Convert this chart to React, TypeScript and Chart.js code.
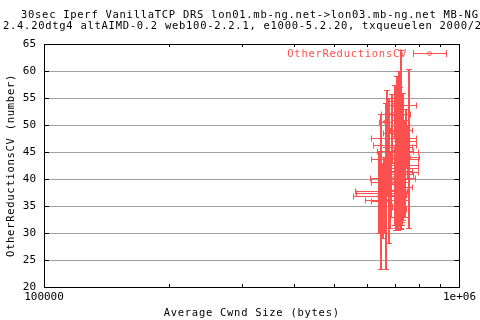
import React, { useEffect, useRef } from "react";
import { Chart, registerables } from "chart.js";

Chart.register(...registerables);

// ---- data (average cwnd in bytes, CV values) ----
const cwnd = [725000, 758000, 706000, 671000, 649000, 664000, 675000, 698000, 690000, 664000, 717000, 710000, 702000, 721000, 713000, 729000, 706000, 698000, 686000, 660000, 653000, 642000, 679000, 710000, 717000, 725000, 733000, 702000, 742000, 717000, 690000, 750000, 713000, 721000, 706000, 713000, 721000, 729000, 706000, 717000, 725000, 710000, 733000, 702000, 717000, 738000, 713000];
const cwndLow = [686000, 710000, 671000, 642000, 611000, 635000, 642000, 671000, 649000, 639000, 614000, 618000, 632000, 611000, 639000, 660000, 635000, 608000, 614000, 562000, 565000, 553000, 594000, 679000, 686000, 702000, 694000, 664000, 710000, 679000, 653000, 710000, 671000, 690000, 675000, 690000, 698000, 706000, 679000, 694000, 698000, 683000, 713000, 675000, 690000, 710000, 686000];
const cwndHigh = [767000, 801000, 738000, 698000, 686000, 698000, 717000, 788000, 762000, 690000, 788000, 788000, 771000, 793000, 793000, 793000, 793000, 780000, 758000, 746000, 742000, 750000, 758000, 738000, 750000, 758000, 767000, 733000, 784000, 767000, 725000, 793000, 758000, 758000, 742000, 742000, 750000, 758000, 733000, 746000, 754000, 738000, 767000, 729000, 754000, 771000, 742000];
const cv = [41.5, 44, 46, 44, 36, 37, 38, 53.7, 52, 50.6, 47.6, 46.3, 45.2, 43.7, 42.6, 42, 41.3, 40.2, 39.4, 37.8, 37.4, 36.8, 36.1, 39, 41, 40, 38.5, 43, 47, 49, 48.5, 45, 44.5, 35, 34.5, 45, 47, 43, 42, 48, 40, 44, 46, 39, 50, 41, 37];
const cvLow = [31.5, 31, 34, 37, 23.4, 23.3, 28.1, 48, 45, 46, 40, 36, 38, 33, 35, 32, 33, 31.5, 33, 30, 29, 30, 31, 32, 31.3, 30.8, 32.5, 37, 42, 44, 43, 40, 39.5, 31.5, 31, 31, 33, 31.5, 32, 35, 31, 33, 34, 30.5, 38, 33, 30.5];
const cvHigh = [63.8, 60.4, 59, 56.5, 52, 50.8, 55, 57.5, 55.8, 54, 55, 53, 51, 50, 49, 48, 47, 46, 45, 44, 43, 45, 42, 46, 48, 47, 45, 52, 53, 58, 54.5, 50, 56, 41, 40, 55, 57, 53, 52, 58, 50, 54, 56, 49, 60, 51, 47];

const yTickValues = [20, 25, 30, 35, 40, 45, 50, 55, 60, 65];
const xMinorTicks = [200000, 300000, 400000, 500000, 600000, 700000, 800000, 900000];

const titleLine1 = "30sec Iperf VanillaTCP DRS lon01.mb-ng.net->lon03.mb-ng.net MB-NG";
const titleLine2 = "2.4.20dtg4 altAIMD-0.2 web100-2.2.1, e1000-5.2.20, txqueuelen 2000/2";
const seriesName = "OtherReductionsCV";
const xTitle = "Average Cwnd Size (bytes)";
const yTitle = "OtherReductionsCV (number)";

const RED = "#ff5050";
const FONT = "10.5px 'DejaVu Sans Mono'";
const SPACING = "0.72px";

function drawDiamond(ctx: CanvasRenderingContext2D, x: number, y: number, r: number) {
  ctx.beginPath();
  ctx.moveTo(x, y - r);
  ctx.lineTo(x + r, y);
  ctx.lineTo(x, y + r);
  ctx.lineTo(x - r, y);
  ctx.closePath();
  ctx.stroke();
}

const framePlugin = {
  id: "frameAndBars",
  beforeDatasetsDraw(chart: any) {
    const { ctx, chartArea: a, scales } = chart;
    const xs = scales.x;
    const ys = scales.y;
    ctx.save();
    ctx.strokeStyle = "#000";
    ctx.lineWidth = 1;
    ctx.strokeRect(Math.round(a.left) + 0.5, Math.round(a.top) + 0.5, Math.round(a.right - a.left), Math.round(a.bottom - a.top));
    ctx.beginPath();
    for (const v of yTickValues) {
      const py = Math.round(ys.getPixelForValue(v)) + 0.5;
      ctx.moveTo(a.left, py);
      ctx.lineTo(a.left + 5, py);
      ctx.moveTo(a.right, py);
      ctx.lineTo(a.right - 5, py);
    }
    for (const v of xMinorTicks) {
      const px = Math.round(xs.getPixelForValue(v)) + 0.5;
      ctx.moveTo(px, a.bottom);
      ctx.lineTo(px, a.bottom - 3);
      ctx.moveTo(px, a.top);
      ctx.lineTo(px, a.top + 3);
    }
    ctx.stroke();

    ctx.strokeStyle = RED;
    // vertical (y) error bars: 2px wide stems
    ctx.lineWidth = 2;
    ctx.beginPath();
    for (let i = 0; i < cwnd.length; i++) {
      const px = Math.round(xs.getPixelForValue(cwnd[i]));
      const yl = Math.round(ys.getPixelForValue(cvLow[i]));
      const yh = Math.round(ys.getPixelForValue(cvHigh[i]));
      ctx.moveTo(px, yl);
      ctx.lineTo(px, yh);
    }
    ctx.stroke();
    // caps and horizontal (x) error bars: 1px
    ctx.lineWidth = 1;
    ctx.beginPath();
    for (let i = 0; i < cwnd.length; i++) {
      const pxr = Math.round(xs.getPixelForValue(cwnd[i]));
      const py = Math.round(ys.getPixelForValue(cv[i])) + 0.5;
      const xl = Math.round(xs.getPixelForValue(cwndLow[i])) + 0.5;
      const xh = Math.round(xs.getPixelForValue(cwndHigh[i])) + 0.5;
      const yl = Math.round(ys.getPixelForValue(cvLow[i])) + 0.5;
      const yh = Math.round(ys.getPixelForValue(cvHigh[i])) + 0.5;
      ctx.moveTo(pxr - 3, yl);
      ctx.lineTo(pxr + 3, yl);
      ctx.moveTo(pxr - 3, yh);
      ctx.lineTo(pxr + 3, yh);
      ctx.moveTo(xl, py);
      ctx.lineTo(xh, py);
      ctx.moveTo(xl, py - 3);
      ctx.lineTo(xl, py + 3);
      ctx.moveTo(xh, py - 3);
      ctx.lineTo(xh, py + 3);
    }
    ctx.stroke();
    ctx.restore();
  },
  afterDraw(chart: any) {
    const { ctx, chartArea: a } = chart;
    ctx.save();
    ctx.font = FONT;
    (ctx as any).letterSpacing = SPACING;
    ctx.textBaseline = "middle";
    ctx.fillStyle = "#000";
    ctx.textAlign = "left";
    ctx.fillText(titleLine1, 21, 15);
    ctx.fillText(titleLine2, 3, 26);
    ctx.textAlign = "center";
    ctx.fillText(xTitle, (a.left + a.right) / 2, 313);
    ctx.save();
    ctx.translate(11, (a.top + a.bottom) / 2);
    ctx.rotate(-Math.PI / 2);
    ctx.fillText(yTitle, 0, 0);
    ctx.restore();
    ctx.fillStyle = RED;
    ctx.textAlign = "right";
    ctx.fillText(seriesName, 407, 54);
    ctx.strokeStyle = RED;
    ctx.lineWidth = 1;
    ctx.beginPath();
    ctx.moveTo(413, 53.5);
    ctx.lineTo(447, 53.5);
    ctx.moveTo(413.5, 50);
    ctx.lineTo(413.5, 57);
    ctx.moveTo(446.5, 50);
    ctx.lineTo(446.5, 57);
    ctx.stroke();
    drawDiamond(ctx, 429.5, 53.5, 2.5);
    ctx.restore();
  },
};

export default function App() {
  const ref = useRef<HTMLCanvasElement | null>(null);
  useEffect(() => {
    document.body.style.margin = "0";
    const canvas = ref.current;
    if (!canvas) return;
    const chart = new Chart(canvas, {
      type: "scatter",
      data: {
        datasets: [
          {
            label: seriesName,
            data: cwnd.map((x, i) => ({ x, y: cv[i] })),
            pointStyle: "rectRot",
            pointRadius: 2.5,
            borderColor: RED,
            backgroundColor: "rgba(0,0,0,0)",
            borderWidth: 1,
          },
        ],
      },
      options: {
        responsive: false,
        animation: false,
        events: [],
        layout: { padding: { top: 44, right: 20, left: 0, bottom: 0 } },
        plugins: { legend: { display: false }, tooltip: { enabled: false }, title: { display: false } },
        scales: {
          x: {
            type: "logarithmic",
            min: 100000,
            max: 1000000,
            afterFit: (s: any) => { s.height = 33; },
            grid: { display: false, drawTicks: false },
            border: { display: false },
            ticks: {
              autoSkip: false,
              maxRotation: 0,
              padding: 4,
              color: "#000",
              font: { family: "'DejaVu Sans Mono'", size: 11 },
              callback: (v: any) => (v === 100000 ? "100000" : v === 1000000 ? "1e+06" : ""),
            },
          },
          y: {
            min: 20,
            max: 65,
            afterFit: (s: any) => { s.width = 44; },
            afterBuildTicks: (s: any) => { s.ticks = yTickValues.map((value) => ({ value })); },
            grid: { color: "#a0a0a0", lineWidth: 1, drawTicks: false },
            border: { display: false },
            ticks: {
              padding: 8,
              color: "#000",
              font: { family: "'DejaVu Sans Mono'", size: 11 },
            },
          },
        },
      },
      plugins: [framePlugin],
    } as any);
    return () => chart.destroy();
  }, []);
  return (
    <div style={{ position: "absolute", left: 0, top: 0, width: 480, height: 320 }}>
      <canvas ref={ref} width={480} height={320} />
    </div>
  );
}
